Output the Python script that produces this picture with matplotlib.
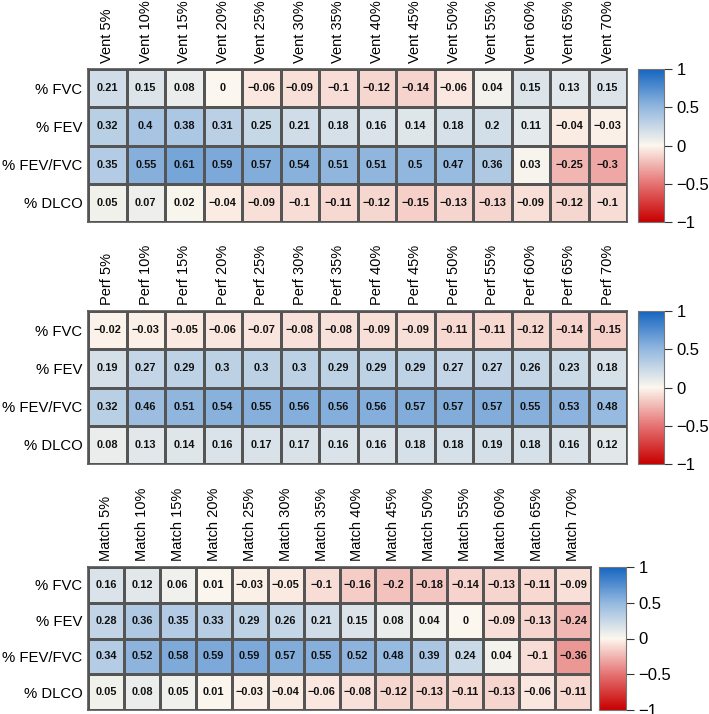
import matplotlib
matplotlib.use("Agg")
import matplotlib.pyplot as plt
from matplotlib.colors import LinearSegmentedColormap, Normalize
import matplotlib.cm as cm
import numpy as np

plt.rcParams["font.family"] = ["Liberation Sans", "DejaVu Sans"]

linhas = ["% FVC", "% FEV", "% FEV/FVC", "% DLCO"]
pcts = [5, 10, 15, 20, 25, 30, 35, 40, 45, 50, 55, 60, 65, 70]

vent = [
    [0.21, 0.15, 0.08, 0, -0.06, -0.09, -0.1, -0.12, -0.14, -0.06, 0.04, 0.15, 0.13, 0.15],
    [0.32, 0.4, 0.38, 0.31, 0.25, 0.21, 0.18, 0.16, 0.14, 0.18, 0.2, 0.11, -0.04, -0.03],
    [0.35, 0.55, 0.61, 0.59, 0.57, 0.54, 0.51, 0.51, 0.5, 0.47, 0.36, 0.03, -0.25, -0.3],
    [0.05, 0.07, 0.02, -0.04, -0.09, -0.1, -0.11, -0.12, -0.15, -0.13, -0.13, -0.09, -0.12, -0.1],
]
perf = [
    [-0.02, -0.03, -0.05, -0.06, -0.07, -0.08, -0.08, -0.09, -0.09, -0.11, -0.11, -0.12, -0.14, -0.15],
    [0.19, 0.27, 0.29, 0.3, 0.3, 0.3, 0.29, 0.29, 0.29, 0.27, 0.27, 0.26, 0.23, 0.18],
    [0.32, 0.46, 0.51, 0.54, 0.55, 0.56, 0.56, 0.56, 0.57, 0.57, 0.57, 0.55, 0.53, 0.48],
    [0.08, 0.13, 0.14, 0.16, 0.17, 0.17, 0.16, 0.16, 0.18, 0.18, 0.19, 0.18, 0.16, 0.12],
]
match = [
    [0.16, 0.12, 0.06, 0.01, -0.03, -0.05, -0.1, -0.16, -0.2, -0.18, -0.14, -0.13, -0.11, -0.09],
    [0.28, 0.36, 0.35, 0.33, 0.29, 0.26, 0.21, 0.15, 0.08, 0.04, 0, -0.09, -0.13, -0.24],
    [0.34, 0.52, 0.58, 0.59, 0.59, 0.57, 0.55, 0.52, 0.48, 0.39, 0.24, 0.04, -0.1, -0.36],
    [0.05, 0.08, 0.05, 0.01, -0.03, -0.04, -0.06, -0.08, -0.12, -0.13, -0.11, -0.13, -0.06, -0.11],
]

cmap = LinearSegmentedColormap.from_list(
    "rdbu_corr",
    [(0.0, "#C80000"), (0.25, "#E57373"), (0.5, "#FCF7EE"), (0.75, "#93B8DF"), (1.0, "#1565C0")],
)
norm = Normalize(vmin=-1, vmax=1)

W, H = 709, 714
fig = plt.figure(figsize=(W / 100, H / 100), dpi=100)


def px(x0, y0, x1, y1):
    return [x0 / W, 1 - y1 / H, (x1 - x0) / W, (y1 - y0) / H]


def formata(v):
    if v == 0:
        return "0"
    s = f"{v:.2f}".rstrip("0").rstrip(".")
    return s.replace("-", "\u2212")


def desenha(dados, prefixo, caixa, caixa_cb):
    ax = fig.add_axes(px(*caixa))
    m = np.array(dados, dtype=float)
    ax.pcolormesh(m, cmap=cmap, norm=norm, edgecolors="#555555", linewidth=0.9)
    ax.set_xlim(0, m.shape[1])
    ax.set_ylim(m.shape[0], 0)
    for i in range(m.shape[0]):
        for j in range(m.shape[1]):
            ax.text(j + 0.5, i + 0.5, formata(m[i, j]), ha="center", va="center",
                    fontsize=7.9, fontweight="bold", color="#111111")
    ax.set_xticks(np.arange(m.shape[1]) + 0.5)
    ax.set_xticklabels([f"{prefixo} {p}%" for p in pcts], rotation=90, fontsize=10.5)
    ax.xaxis.tick_top()
    ax.set_yticks(np.arange(m.shape[0]) + 0.5)
    ax.set_yticklabels(linhas, fontsize=10.7)
    ax.tick_params(length=0, pad=4)
    for s in ax.spines.values():
        s.set_color("#555555")
        s.set_linewidth(1.2)

    cax = fig.add_axes(px(*caixa_cb))
    cb = fig.colorbar(cm.ScalarMappable(norm=norm, cmap=cmap), cax=cax)
    cb.set_ticks([-1, -0.5, 0, 0.5, 1])
    cb.set_ticklabels(["\u22121", "\u22120.5", "0", "0.5", "1"])
    cb.ax.tick_params(labelsize=12, length=6, width=0.8, color="#333333", pad=3)
    cb.outline.set_edgecolor("#777777")
    cb.outline.set_linewidth(0.8)


desenha(vent, "Vent", (88, 69, 627, 222), (638, 69, 664, 222))
desenha(perf, "Perf", (88, 311, 627, 464), (638, 311, 664, 464))
desenha(match, "Match", (88, 567, 591, 710), (599, 567, 626, 710))

fig.savefig("out.png", dpi=100)
